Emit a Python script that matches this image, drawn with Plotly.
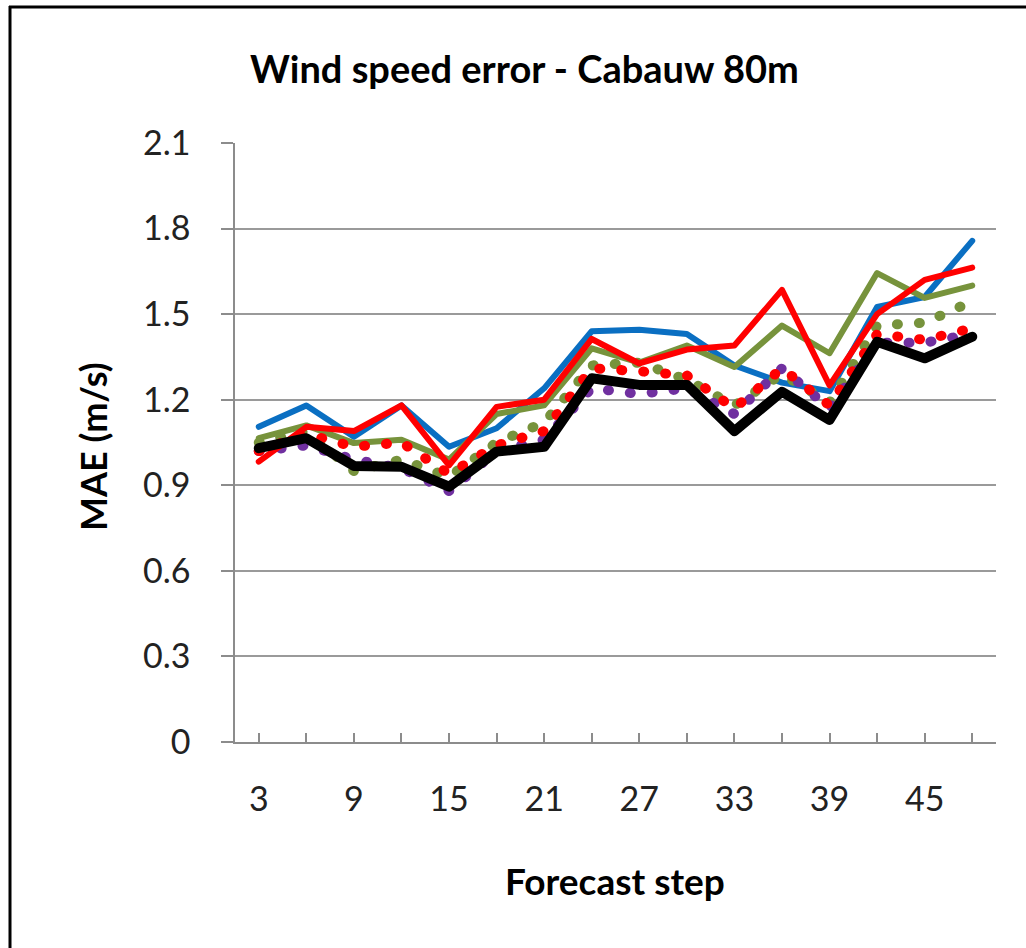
import plotly.graph_objects as go

steps = [3, 6, 9, 12, 15, 18, 21, 24, 27, 30, 33, 36, 39, 42, 45, 48]
tick_labels = ["3", "", "9", "", "15", "", "21", "", "27", "", "33", "", "39", "", "45", ""]

blue_solid = [1.105, 1.18, 1.07, 1.18, 1.035, 1.10, 1.24, 1.44, 1.445, 1.43, 1.32, 1.26, 1.23, 1.525, 1.56, 1.757]
green_solid = [1.065, 1.11, 1.048, 1.06, 0.99, 1.15, 1.18, 1.38, 1.33, 1.39, 1.315, 1.46, 1.363, 1.644, 1.557, 1.60]
red_solid = [0.983, 1.105, 1.09, 1.18, 0.97, 1.175, 1.20, 1.413, 1.327, 1.376, 1.39, 1.585, 1.25, 1.50, 1.62, 1.663]
green_dotted = [1.05, 1.09, 0.95, 0.99, 0.93, 1.05, 1.12, 1.32, 1.33, 1.27, 1.18, 1.29, 1.19, 1.46, 1.47, 1.545]
purple_dotted = [1.02, 1.04, 0.99, 0.96, 0.88, 1.02, 1.06, 1.24, 1.22, 1.24, 1.15, 1.31, 1.17, 1.40, 1.40, 1.43]
red_dotted = [1.02, 1.08, 1.035, 1.05, 0.94, 1.04, 1.09, 1.31, 1.30, 1.285, 1.17, 1.31, 1.18, 1.43, 1.41, 1.45]
black_solid = [1.03, 1.065, 0.968, 0.965, 0.895, 1.018, 1.035, 1.275, 1.252, 1.252, 1.09, 1.228, 1.129, 1.403, 1.345, 1.421]

series = [
    ("blue", blue_solid, "#0A6FC2", 6, "solid"),
    ("green", green_solid, "#77933C", 6, "solid"),
    ("green dotted", green_dotted, "#77933C", 10, "1px,21px"),
    ("purple dotted", purple_dotted, "#7030A0", 10, "1px,21px"),
    ("red dotted", red_dotted, "#FF0000", 10, "1px,21px"),
    ("red", red_solid, "#FF0000", 6, "solid"),
    ("black", black_solid, "#000000", 10, "solid"),
]

fig = go.Figure()
for name, ys, color, w, dash in series:
    fig.add_trace(go.Scatter(x=steps, y=ys, mode="lines", name=name,
                             line=dict(color=color, width=w, dash=dash)))

FONT = "Lato"
W, H = 1026, 948
L, R, T, B = 235, 996, 143, 742

def px_x(p):
    return (p - L) / (R - L)

def px_y(p):
    return (B - p) / (B - T)

fig.update_layout(
    width=W, height=H,
    margin=dict(l=L, r=W - R, t=T, b=H - B, pad=0),
    paper_bgcolor="white", plot_bgcolor="white",
    showlegend=False,
    font=dict(family=FONT, color="#000000"),
    xaxis=dict(
        range=[1.5, 49.5], tickmode="array", tickvals=steps, ticktext=tick_labels,
        ticks="inside", ticklen=9, tickwidth=1.5, tickcolor="#8c8c8c",
        showline=True, linecolor="#8c8c8c", linewidth=1.5,
        showgrid=False, zeroline=False,
        tickfont=dict(size=34, family=FONT, color="#222222"),
        ticklabelstandoff=26,
    ),
    yaxis=dict(
        range=[0, 2.1], tickmode="array",
        tickvals=[0, 0.3, 0.6, 0.9, 1.2, 1.5, 1.8, 2.1],
        ticktext=["0", "0.3", "0.6", "0.9", "1.2", "1.5", "1.8", "2.1"],
        ticks="outside", ticklen=12, tickwidth=1.5, tickcolor="#8c8c8c",
        showline=True, linecolor="#8c8c8c", linewidth=1.5,
        showgrid=True, gridcolor="#9a9a9a", gridwidth=1.5,
        zeroline=False,
        tickfont=dict(size=34, family=FONT, color="#222222"),
        ticklabelstandoff=24,
    ),
    shapes=[
        dict(type="line", xref="paper", yref="paper",
             x0=px_x(10), x1=px_x(10), y0=px_y(6), y1=px_y(960),
             line=dict(color="black", width=3)),
        dict(type="line", xref="paper", yref="paper",
             x0=px_x(9), x1=px_x(1040), y0=px_y(7), y1=px_y(7),
             line=dict(color="black", width=3)),
    ],
    annotations=[
        dict(text="<b>Wind speed error - Cabauw 80m</b>", xref="paper", yref="paper",
             x=px_x(524), y=px_y(68), xanchor="center", yanchor="middle",
             showarrow=False, font=dict(size=38, family=FONT, color="black")),
        dict(text="<b>MAE (m/s)</b>", xref="paper", yref="paper",
             x=px_x(93), y=px_y(447), xanchor="center", yanchor="middle",
             textangle=-90, showarrow=False, font=dict(size=36, family=FONT, color="black")),
        dict(text="<b>Forecast step</b>", xref="paper", yref="paper",
             x=px_x(615), y=px_y(880), xanchor="center", yanchor="middle",
             showarrow=False, font=dict(size=37, family=FONT, color="black")),
    ],
)

post = """
document.body.style.margin = '0';
document.body.style.padding = '0';
var s = document.createElement('style');
s.textContent = 'body{margin:0 !important;padding:0 !important;} .scatterlayer path.js-line{stroke-linecap:round !important;stroke-linejoin:round !important;}';
document.head.appendChild(s);
"""
fig.write_html("out.html", post_script=post, config={"displayModeBar": False})
